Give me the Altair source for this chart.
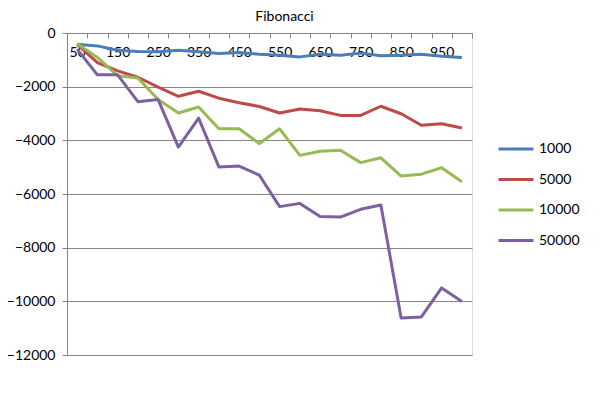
import altair as alt
import pandas as pd

sizes = [50, 100, 150, 200, 250, 300, 350, 400, 450, 500,
         550, 600, 650, 700, 750, 800, 850, 900, 950, 1000]
series_names = ["1000", "5000", "10000", "50000"]
s1000 = [-420, -480, -640, -690, -700, -640, -700, -760, -730, -790,
         -830, -890, -790, -830, -750, -850, -830, -790, -870, -910]
s5000 = [-420, -1100, -1410, -1650, -2020, -2360, -2170, -2430, -2600, -2740,
         -2980, -2830, -2900, -3070, -3070, -2730, -3010, -3440, -3380, -3540]
s10000 = [-400, -910, -1590, -1680, -2480, -2980, -2760, -3570, -3570, -4120,
          -3570, -4560, -4410, -4370, -4830, -4650, -5330, -5260, -5020, -5540]
s50000 = [-600, -1560, -1560, -2560, -2480, -4250, -3170, -4990, -4960, -5300,
          -6470, -6350, -6840, -6860, -6570, -6410, -10620, -10580, -9500, -10010]
colors = ["#4A7EBB", "#BE4B48", "#98B954", "#7D60A0"]

rows = []
for name, vals in zip(series_names, [s1000, s5000, s10000, s50000]):
    for n, v in zip(sizes, vals):
        rows.append({"n": n, "value": v, "series": name})
df = pd.DataFrame(rows)

FONT = "Lato"
GRID = "#868686"

chart = alt.Chart(df).mark_line(strokeWidth=3, strokeJoin="round").encode(
    x=alt.X("n:O", bandPosition=0.5,
            scale=alt.Scale(type="band", paddingInner=0, paddingOuter=0),
            axis=alt.Axis(title=None, labelAngle=0, tickBand="extent",
                          offset=-322, domainColor=GRID, tickColor=GRID,
                          tickSize=5, labelPadding=7, labelFontSize=14,
                          labelFont=FONT, labelColor="#000000", grid=False,
                          labelExpr="datum.value % 100 == 50 ? datum.label : ''")),
    y=alt.Y("value:Q", scale=alt.Scale(domain=[-12000, 0], nice=False),
            axis=alt.Axis(title=None, values=list(range(-12000, 1, 2000)),
                          format="d", grid=True, gridColor=GRID, gridOpacity=1,
                          domainColor=GRID, tickColor=GRID, tickSize=5,
                          labelPadding=7, labelFontSize=14, labelFont=FONT,
                          labelColor="#000000")),
    color=alt.Color("series:N", sort=series_names,
                    scale=alt.Scale(domain=series_names, range=colors),
                    legend=alt.Legend(title=None, orient="none", legendX=430,
                                      legendY=97, symbolType="stroke",
                                      symbolSize=1225, symbolStrokeWidth=3,
                                      labelFontSize=14, labelFont=FONT,
                                      labelColor="#000000", labelOffset=4,
                                      rowPadding=4.5)),
).properties(
    width=405, height=322,
    title=alt.TitleParams("Fibonacci", font=FONT, fontSize=14, fontWeight="normal",
                          color="#000000", dx=15, offset=2),
    autosize=alt.AutoSizeParams(type="none"),
    padding={"left": 59, "top": 25, "right": 120, "bottom": 33},
).configure_view(stroke=None).configure(background="white")

chart.save("out.html", embed_options={"renderer": "svg", "actions": False})
